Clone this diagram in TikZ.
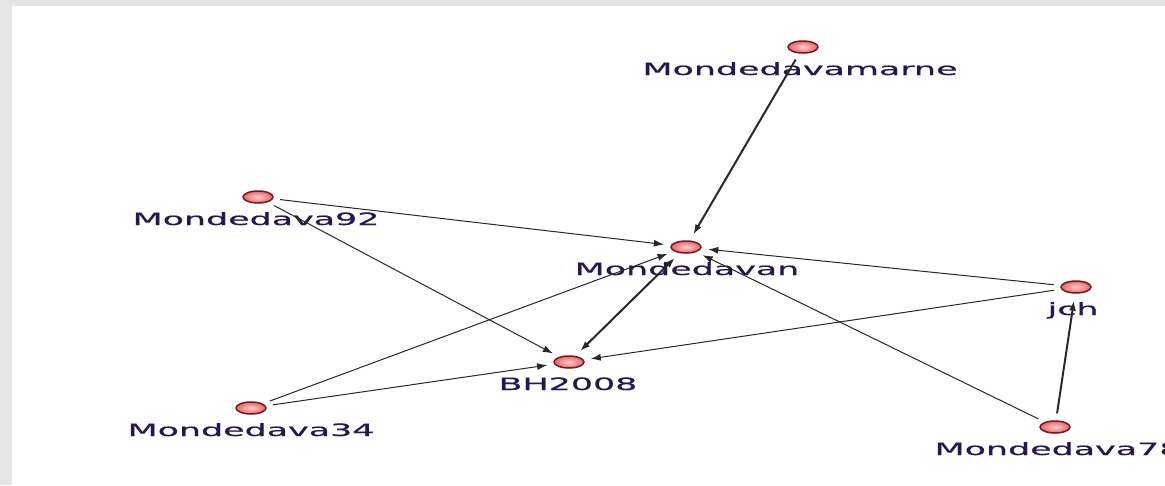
\documentclass[tikz,border=0pt]{standalone}
\usepackage{fontspec}
\newfontfamily\labfont[FakeStretch=2.05,FakeBold=0.6]{DejaVu Sans}
\usetikzlibrary{shapes.geometric,arrows.meta}
\definecolor{bggray}{RGB}{228,228,228}
\definecolor{nodeedge}{RGB}{110,28,32}
\definecolor{nodein}{RGB}{255,205,205}
\definecolor{nodeout}{RGB}{235,100,105}
\definecolor{labcol}{RGB}{40,22,80}
\definecolor{edgecol}{RGB}{40,40,40}
\begin{document}
\begin{tikzpicture}[x=1pt,y=-1pt,
  vert/.style={ellipse, draw=nodeedge, line width=1.5pt, inner color=nodein, outer color=nodeout, minimum width=30pt, minimum height=12pt, inner sep=0pt},
  lab/.style={font=\labfont\fontsize{17}{17}\selectfont, text=labcol, anchor=base, inner sep=0pt},
  edge/.style={draw=edgecol, line width=1pt, -{Latex[length=10pt,width=7pt]}, shorten >=7pt, shorten <=7pt},
  bothedge/.style={edge, {Latex[length=10pt,width=7pt]}-{Latex[length=10pt,width=7pt]}},
  heavy/.style={line width=2pt}]
\useasboundingbox (0,0) rectangle (1165,485);
\fill[bggray] (0,0) rectangle (1165,485);
\fill[white] (12,6) rectangle (1165,485);

\node[vert] (marne) at (803,47) {};
\node[vert] (m92) at (258,197) {};
\node[vert] (mvan) at (686,247) {};
\node[vert] (jch) at (1076,287) {};
\node[vert] (bh) at (569,362) {};
\node[vert] (m34) at (251,408) {};
\node[vert] (m78) at (1055,427) {};

\node[lab] (lmarne) at (800,75) {Mondedavamarne};
\node[lab] (lm92) at (256,225) {Mondedava92};
\node[lab] (lmvan) at (687,275) {Mondedavan};
\node[lab] (ljch) at (1073,315) {jch};
\node[lab] (lbh) at (568,390) {BH2008};
\node[lab] (lm34) at (251,436) {Mondedava34};
\node[lab] (lm78) at (1058,455) {Mondedava78};

\draw[edge,heavy] (marne) -- (mvan);
\draw[edge] (m92) -- (mvan);
\draw[edge] (m92) -- (bh);
\draw[edge] (jch) -- (mvan);
\draw[edge] (jch) -- (bh);
\draw[edge] (m34) -- (mvan);
\draw[edge] (m34) -- (bh);
\draw[edge] (m78) -- (mvan);
\draw[edge,heavy] (m78) -- (jch);
\draw[bothedge,heavy] (mvan) -- (bh);
\end{tikzpicture}
\end{document}
